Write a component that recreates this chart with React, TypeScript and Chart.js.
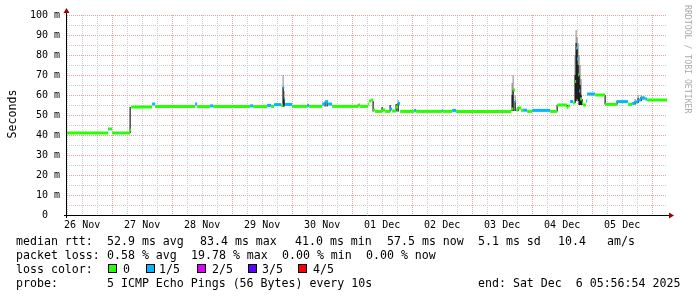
import React, { useEffect, useRef } from 'react';
import { Chart, registerables } from 'chart.js';

Chart.register(...registerables);

// ---- time axis: hours since 26 Nov 00:00 ----
const startHour = 5.95; // 26 Nov 05:56:54
const endHour = 245.95; // 06 Dec 05:56:54
const dayLabels = ['26 Nov', '27 Nov', '28 Nov', '29 Nov', '30 Nov', '01 Dec', '02 Dec', '03 Dec', '04 Dec', '05 Dec'];
const yTickValues = [0, 5, 10, 15, 20, 25, 30, 35, 40, 45, 50, 55, 60, 65, 70, 75, 80, 85, 90, 95, 100];

// ---- median rtt (ms), step series: value holds from hours[i] to hours[i+1] ----
const hours = [5.95, 22.4, 22.8, 24.0, 26.4, 26.8, 31.2, 31.6, 40.0, 41.2, 57.2, 58.0, 63.2, 64.4, 79.2, 80.4, 86.0, 87.6, 88.8, 91.6,
  92.4, 92.8, 93.2, 96.0, 102.0, 102.8, 108.0, 109.2, 110.4, 112.0, 122.4, 123.2, 126.4, 126.8, 127.6, 128.4, 129.2, 132.0, 133.2, 135.2,
  136.0, 137.6, 138.4, 139.2, 144.8, 145.6, 156.0, 156.4, 160.0, 161.6, 183.6, 184.4, 185.2, 185.6, 186.4, 187.6, 188.4, 190.0, 192.0, 199.2,
  202.0, 206.0, 206.4, 207.2, 208.4, 209.2, 209.6, 210.0, 210.4, 210.8, 211.2, 212.0, 212.4, 213.6, 214.0, 217.2, 221.2, 226.0, 230.4, 232.0,
  233.2, 234.4, 235.6, 237.2, 238.0];
const medianMs = [41.0, 43.0, 43.0, 41.0, 41.0, 41.0, 42.5, 54.0, 55.5, 54.2, 55.5, 54.2, 54.6, 54.2, 54.6, 54.2, 54.8, 54.3, 55.2, 54.8,
  64.0, 58.0, 55.3, 54.3, 54.8, 54.3, 55.5, 56.7, 55.5, 54.3, 55.0, 54.3, 55.5, 57.0, 57.5, 52.5, 51.8, 52.5, 51.8, 53.0,
  52.0, 54.0, 55.8, 51.8, 52.3, 51.8, 52.2, 51.8, 52.3, 51.8, 53.0, 62.5, 56.7, 52.5, 53.5, 52.3, 52.4, 51.8, 52.3, 51.8,
  55.0, 53.8, 54.5, 56.7, 56.0, 66.7, 83.4, 78.0, 70.0, 62.0, 58.0, 56.0, 55.0, 57.0, 60.5, 60.0, 55.3, 56.7, 55.3, 55.8,
  56.5, 57.5, 58.5, 58.0, 57.5];
const lossOf5 = [0, 1, 0, 0, 1, 0, 0, 0, 1, 0, 1, 0, 1, 0, 1, 0, 1, 0, 1, 0,
  1, 1, 1, 0, 1, 0, 1, 1, 1, 0, 0, 0, 0, 0, 0, 0, 0, 0, 0, 1,
  0, 0, 1, 0, 1, 0, 1, 0, 1, 0, 0, 0, 1, 0, 0, 0, 1, 0, 1, 0,
  0, 0, 0, 1, 0, 0, 1, 1, 0, 1, 0, 0, 0, 1, 1, 0, 0, 1, 0, 1,
  1, 1, 1, 1, 0];

// ---- smoke (spread of individual pings) ----
const coreHours = [31.2, 92.4, 92.8, 109.2, 110.0, 122.4, 128.4, 132.0, 135.2, 137.6, 138.4, 184.0, 184.4, 185.2, 186.4, 202.0, 206.0,
  209.2, 209.6, 210.0, 210.4, 210.8, 211.2, 211.6, 212.0, 221.2, 226.0, 233.2, 234.4, 235.6];
const coreLow = [41.0, 54.2, 54.2, 54.3, 54.3, 54.3, 51.8, 51.8, 51.8, 51.8, 51.8, 52.0, 52.0, 52.0, 52.0, 51.8, 53.8,
  56.0, 57.0, 58.0, 57.0, 55.0, 55.0, 55.0, 55.0, 55.3, 55.3, 55.3, 56.0, 57.0];
const coreHigh = [54.0, 64.0, 58.0, 56.7, 56.0, 55.2, 57.0, 54.0, 55.0, 55.5, 56.0, 60.0, 62.5, 57.0, 54.0, 55.0, 55.0,
  70.0, 86.0, 83.0, 75.0, 70.0, 65.0, 60.0, 58.0, 60.0, 57.2, 57.0, 58.5, 59.0];
const outerHours = [92.4, 92.8, 138.4, 184.0, 184.4, 185.2, 209.2, 209.6, 210.0, 210.4, 210.8, 211.2, 211.6, 233.2, 234.4, 235.6, 236.4];
const outerLow = [54.2, 54.2, 51.8, 52.0, 52.0, 52.0, 56.0, 57.0, 58.0, 57.0, 55.0, 55.0, 55.0, 55.3, 56.0, 57.0, 57.5];
const outerHigh = [70.0, 62.0, 57.5, 66.0, 70.0, 60.0, 80.0, 92.5, 89.0, 86.0, 80.0, 75.0, 68.0, 58.0, 60.0, 60.0, 59.5];

// ---- legend texts ----
const rttLabel = 'median rtt:';
const rttStats = ['52.9 ms avg', '83.4 ms max', '41.0 ms min', '57.5 ms now', '5.1 ms sd', '10.4', 'am/s'];
const lossLabel = 'packet loss:';
const lossStats = ['0.58 % avg', '19.78 % max', '0.00 % min', '0.00 % now'];
const lossColorLabel = 'loss color:';
const lossLevels = ['0', '1/5', '2/5', '3/5', '4/5'];
const lossColors = ['#26ff00', '#00b8ff', '#dd00ff', '#5e00ff', '#ff0000'];
const probeLabel = 'probe:';
const probeText = '5 ICMP Echo Pings (56 Bytes) every 10s';
const endText = 'end: Sat Dec  6 05:56:54 2025';
const yTitle = 'Seconds';
const watermark = 'RRDTOOL / TOBI OETIKER';

const MONO = '"DejaVu Sans Mono", monospace';
const MAJOR = 'rgb(236,160,160)';
const MINOR = 'rgb(204,204,204)';

const xGrid: number[] = [];
for (let h = 6; h <= 240; h += 6) xGrid.push(h);

function stepSeries(ts: number[], vs: number[], end: number) {
  const out: any[] = [];
  for (let i = 0; i < ts.length; i++) {
    const t1 = i + 1 < ts.length ? ts[i + 1] : end;
    out.push({ x: ts[i], y: vs[i] }, { x: t1, y: vs[i] }, { x: t1, y: null });
  }
  return out;
}

function rangeSeries(ts: number[], lo: number[], hi: number[]) {
  const out: any[] = [];
  for (let i = 0; i < ts.length; i++) {
    out.push({ x: ts[i], y: lo[i] }, { x: ts[i], y: hi[i] }, { x: ts[i], y: null });
  }
  return out;
}

const decor = {
  id: 'rrdDecor',
  beforeDraw(chart: any) {
    const c = chart.ctx;
    c.save();
    c.fillStyle = '#ffffff';
    c.fillRect(0, 0, chart.width, chart.height);
    c.restore();
  },
  beforeDatasetsDraw(chart: any) {
    // dotted rrdtool grid, placed through the chart's scales (1px dots, 1px gaps)
    const c = chart.ctx;
    const { left, right, top, bottom } = chart.chartArea;
    const xs = chart.scales.x;
    const ys = chart.scales.y;
    c.save();
    const drawPass = (major: boolean) => {
      c.fillStyle = major ? MAJOR : MINOR;
      xGrid.forEach((h) => {
        if ((h % 24 === 0) !== major) return;
        const px = Math.round(xs.getPixelForValue(h));
        for (let y = Math.round(top); y < bottom; y += 2) c.fillRect(px, y, 1, 1);
      });
      yTickValues.forEach((v) => {
        if (v === 0) return;
        if ((v % 10 === 0) !== major) return;
        const py = Math.round(ys.getPixelForValue(v));
        for (let x = Math.round(left); x < right; x += 2) c.fillRect(x, py, 1, 1);
      });
    };
    drawPass(false);
    drawPass(true);
    c.restore();
  },
  afterDraw(chart: any) {
    const c = chart.ctx;
    const { left, right, top, bottom } = chart.chartArea;
    c.save();
    // axes
    c.strokeStyle = '#000';
    c.lineWidth = 1;
    c.beginPath();
    c.moveTo(left - 0.5, bottom + 3);
    c.lineTo(left - 0.5, top - 4);
    c.moveTo(left - 3, bottom + 0.5);
    c.lineTo(right + 4, bottom + 0.5);
    c.stroke();
    c.fillStyle = '#a00000';
    c.beginPath();
    c.moveTo(left - 3.5, top - 2);
    c.lineTo(left + 2.5, top - 2);
    c.lineTo(left - 0.5, top - 7);
    c.closePath();
    c.fill();
    c.beginPath();
    c.moveTo(right + 2, bottom - 2.5);
    c.lineTo(right + 2, bottom + 3.5);
    c.lineTo(right + 7, bottom + 0.5);
    c.closePath();
    c.fill();

    // y title
    c.fillStyle = '#000';
    c.font = '11.6px ' + MONO;
    c.save();
    c.translate(15.5, 114);
    c.rotate(-Math.PI / 2);
    c.textAlign = 'center';
    c.textBaseline = 'alphabetic';
    c.fillText(yTitle, 0, 0);
    c.restore();

    // watermark
    c.save();
    c.fillStyle = '#aaaaaa';
    c.font = '8.2px ' + MONO;
    c.translate(685, 5);
    c.rotate(Math.PI / 2);
    c.textAlign = 'left';
    c.textBaseline = 'alphabetic';
    c.fillText(watermark, 0, 0);
    c.restore();

    // legend
    c.textAlign = 'left';
    c.textBaseline = 'alphabetic';
    c.font = '11.6px ' + MONO;
    c.fillStyle = '#000';
    const b1 = 245, b2 = 259, b3 = 273, b4 = 287;
    c.fillText(rttLabel, 16, b1);
    const rttX = [107, 200, 295, 387, 478, 558, 607];
    rttStats.forEach((s, i) => c.fillText(s, rttX[i], b1));
    c.fillText(lossLabel, 16, b2);
    const lossX = [107, 191, 282, 366];
    lossStats.forEach((s, i) => c.fillText(s, lossX[i], b2));
    c.fillText(lossColorLabel, 16, b3);
    const boxX = [108, 146, 197, 248, 298];
    const lvlX = [123, 159, 212, 262, 313];
    lossLevels.forEach((s, i) => {
      c.fillStyle = lossColors[i];
      c.fillRect(boxX[i], b3 - 8, 8, 8);
      c.strokeStyle = '#000';
      c.strokeRect(boxX[i] + 0.5, b3 - 8.5, 8, 8);
      c.fillStyle = '#000';
      c.fillText(s, lvlX[i], b3);
    });
    c.fillText(probeLabel, 16, b4);
    c.fillText(probeText, 107, b4);
    c.fillText(endText, 478, b4);
    c.restore();
  },
};

export default function App() {
  const ref = useRef<HTMLCanvasElement>(null);
  useEffect(() => {
    const canvas = ref.current;
    if (!canvas) return;
    const chart = new Chart(canvas, {
      type: 'line',
      data: {
        datasets: [
          {
            label: 'smoke outer',
            data: rangeSeries(outerHours, outerLow, outerHigh),
            borderColor: '#9c9c9c',
            borderWidth: 1.2,
            pointRadius: 0,
            spanGaps: false,
            order: 3,
          },
          {
            label: 'smoke core',
            data: rangeSeries(coreHours, coreLow, coreHigh),
            borderColor: '#1e1e1e',
            borderWidth: 1.2,
            pointRadius: 0,
            spanGaps: false,
            order: 2,
          },
          {
            label: 'median',
            data: stepSeries(hours, medianMs, endHour),
            borderColor: lossColors[0],
            borderWidth: 3,
            borderCapStyle: 'butt',
            pointRadius: 0,
            spanGaps: false,
            order: 1,
            segment: {
              borderColor: (ctx: any) => lossColors[lossOf5[Math.floor(ctx.p0DataIndex / 3)]],
            },
          },
        ] as any,
      },
      options: {
        responsive: false,
        animation: false,
        devicePixelRatio: 1,
        events: [],
        layout: { padding: { left: 0, top: 15, right: 30, bottom: 0 } },
        plugins: { legend: { display: false }, tooltip: { enabled: false } },
        scales: {
          x: {
            type: 'linear',
            min: startHour,
            max: endHour,
            afterBuildTicks: (s: any) => {
              s.ticks = xGrid.map((v) => ({ value: v }));
            },
            afterFit: (s: any) => {
              s.height = 82;
            },
            grid: { display: false, drawTicks: false },
            border: { display: false },
            ticks: {
              autoSkip: false,
              maxRotation: 0,
              minRotation: 0,
              padding: 4,
              color: '#000',
              font: { family: MONO, size: 10 },
              callback: (v: any) => {
                const n = Number(v);
                if ((n - 12) % 24 === 0) return dayLabels[(n - 12) / 24] || '';
                return '';
              },
            },
          },
          y: {
            type: 'linear',
            min: 0,
            max: 100,
            afterBuildTicks: (s: any) => {
              s.ticks = yTickValues.map((v) => ({ value: v }));
            },
            afterFit: (s: any) => {
              s.width = 67;
            },
            grid: { display: false, drawTicks: false },
            border: { display: false },
            ticks: {
              padding: 7,
              color: '#000',
              font: { family: MONO, size: 10 },
              callback: (v: any) => {
                const n = Number(v);
                if (n % 10 !== 0) return '';
                return n === 0 ? '0  ' : n + ' m';
              },
            },
          },
        },
      } as any,
      plugins: [decor as any],
    });
    return () => chart.destroy();
  }, []);
  return (
    <div style={{ position: 'absolute', left: 0, top: 0, width: 697, height: 297, background: '#fff' }}>
      <canvas ref={ref} width={697} height={297} style={{ display: 'block', width: 697, height: 297 }} />
    </div>
  );
}
